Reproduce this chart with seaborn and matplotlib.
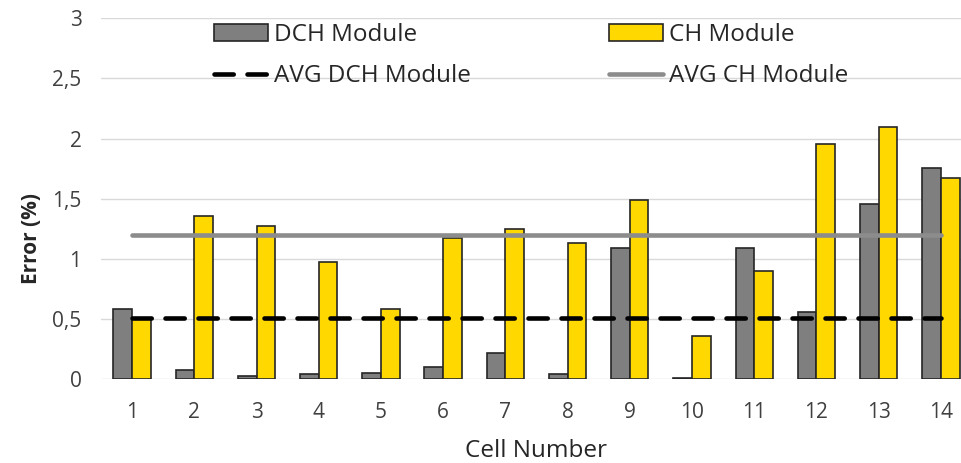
import matplotlib
matplotlib.use("Agg")
import matplotlib.pyplot as plt
import seaborn as sns
import pandas as pd
from matplotlib.patches import Patch
from matplotlib.lines import Line2D

cells = [str(i) for i in range(1, 15)]
dch = [0.585, 0.075, 0.027, 0.04, 0.052, 0.105, 0.22, 0.04, 1.094, 0.01, 1.094, 0.56, 1.46, 1.759]
ch = [0.51, 1.357, 1.277, 0.978, 0.585, 1.172, 1.247, 1.133, 1.49, 0.363, 0.90, 1.956, 2.10, 1.671]
avg_dch = 0.51
avg_ch = 1.202
series = ["DCH Module", "CH Module"]
yticks = [0, 0.5, 1, 1.5, 2, 2.5, 3]
ytick_labels = ["0", "0,5", "1", "1,5", "2", "2,5", "3"]

df = pd.DataFrame({
    "cell": cells * 2,
    "err": dch + ch,
    "module": [series[0]] * len(cells) + [series[1]] * len(cells),
})

sns.set_theme(style="white")
plt.rcParams["font.family"] = ["Open Sans", "DejaVu Sans"]

fig = plt.figure(figsize=(9.61, 4.63), dpi=100)
ax = fig.add_axes([0.1051, 0.1808, 0.9063, 0.7797])

for y in yticks:
    ax.axhline(y, color="#d9d9d9", lw=1.0, zorder=0)

colors = {"DCH Module": "#7f7f7f", "CH Module": "#ffd800"}
sns.barplot(data=df, x="cell", y="err", hue="module", palette=colors,
            saturation=1, width=0.6, gap=0, edgecolor="#262626", linewidth=1.2,
            ax=ax, legend=False, zorder=2)

dash = (0, (4.2, 3.0))
n = len(cells)
xs = list(range(n))
sns.lineplot(x=xs, y=[avg_ch] * n, color="#8c8c8c", lw=3.3, ax=ax, zorder=3)
sns.lineplot(x=xs, y=[avg_dch] * n, color="black", lw=3.3, ax=ax, zorder=4,
             linestyle=dash)
for l in ax.lines[-2:]:
    l.set_solid_capstyle("round")
    l.set_dash_capstyle("round")

ax.set_ylim(0, 3)
ax.set_xlim(-0.5, n - 0.5)
ax.set_yticks(yticks)
ax.set_yticklabels(ytick_labels, fontsize=15, color="#404040")
ax.tick_params(axis="x", labelsize=15, colors="#404040", pad=16, length=0)
ax.tick_params(axis="y", length=0, pad=14)
for s in ax.spines.values():
    s.set_visible(False)

ax.set_xlabel("Cell Number", fontsize=17.5, color="#262626", labelpad=12)
ax.set_ylabel("Error (%)", fontsize=15, fontweight="bold", color="#262626")
ax.yaxis.set_label_coords(-0.068, 0.39)

handles = [
    Patch(facecolor=colors["DCH Module"], edgecolor="#262626", lw=1.2),
    Line2D([0], [0], color="black", lw=3.3, linestyle=dash, dash_capstyle="round"),
    Patch(facecolor=colors["CH Module"], edgecolor="#262626", lw=1.2),
    Line2D([0], [0], color="#8c8c8c", lw=3.3, solid_capstyle="round"),
]
labels = ["DCH Module", "AVG DCH Module", "CH Module", "AVG CH Module"]
leg = ax.legend(handles, labels, ncol=2, loc="upper left",
                bbox_to_anchor=(0.119, 1.015), frameon=False, fontsize=17.5,
                handlelength=2.2, handleheight=0.7, handletextpad=0.25,
                columnspacing=5.7, labelspacing=0.72, borderaxespad=0)
for t in leg.get_texts():
    t.set_color("#262626")

fig.savefig("out.png", dpi=100)
